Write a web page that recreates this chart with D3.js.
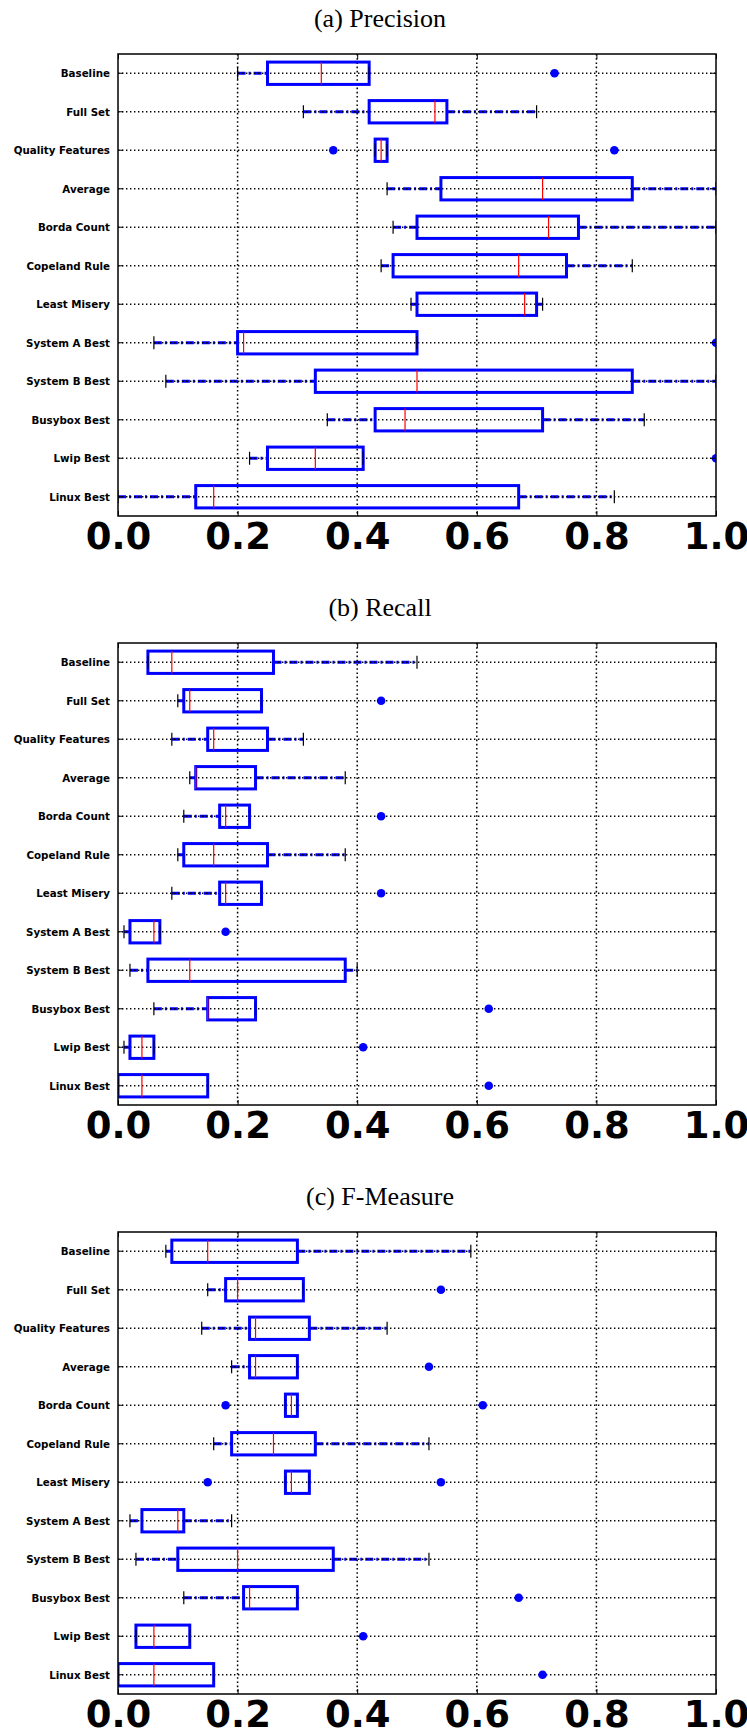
<!DOCTYPE html>
<html>
<head>
<meta charset="utf-8">
<script src="https://cdn.jsdelivr.net/npm/d3@7"></script>
<style>
  body { margin: 0; background: #fff; }
  .title { font-family: "Liberation Serif", "Times New Roman", serif; font-size: 26px; }
  .cat-label { font-family: "DejaVu Sans", sans-serif; font-weight: bold; font-size: 10.3px; }
  .x-label { font-family: "DejaVu Sans", sans-serif; font-weight: bold; font-size: 37px; }
</style>
</head>
<body>
<svg id="chart" width="747" height="1731"></svg>
<script>
const categories = ['Baseline', 'Full Set', 'Quality Features', 'Average', 'Borda Count', 'Copeland Rule',
  'Least Misery', 'System A Best', 'System B Best', 'Busybox Best', 'Lwip Best', 'Linux Best'];

const panelTitles = ['(a) Precision', '(b) Recall', '(c) F-Measure'];

const xTickValues = [0.0, 0.2, 0.4, 0.6, 0.8, 1.0];
const xTickLabels = ['0.0', '0.2', '0.4', '0.6', '0.8', '1.0'];

// [whisker low, q1, median, q3, whisker high] per category
const precisionStats = [
  [0.20, 0.25, 0.34, 0.42, 0.42],
  [0.31, 0.42, 0.53, 0.55, 0.70],
  [0.43, 0.43, 0.44, 0.45, 0.45],
  [0.45, 0.54, 0.71, 0.86, 1.00],
  [0.46, 0.50, 0.72, 0.77, 1.00],
  [0.44, 0.46, 0.67, 0.75, 0.86],
  [0.49, 0.50, 0.68, 0.70, 0.71],
  [0.06, 0.20, 0.21, 0.50, 0.50],
  [0.08, 0.33, 0.50, 0.86, 1.00],
  [0.35, 0.43, 0.48, 0.71, 0.88],
  [0.22, 0.25, 0.33, 0.41, 0.41],
  [0.00, 0.13, 0.16, 0.67, 0.83]
];
const precisionFliers = [[0.73], [], [0.36, 0.83], [], [], [], [], [1.0], [], [], [1.0], []];

const recallStats = [
  [0.05, 0.05, 0.09, 0.26, 0.50],
  [0.10, 0.11, 0.12, 0.24, 0.24],
  [0.09, 0.15, 0.16, 0.25, 0.31],
  [0.12, 0.13, 0.13, 0.23, 0.38],
  [0.11, 0.17, 0.18, 0.22, 0.22],
  [0.10, 0.11, 0.16, 0.25, 0.38],
  [0.09, 0.17, 0.18, 0.24, 0.24],
  [0.01, 0.02, 0.06, 0.07, 0.07],
  [0.02, 0.05, 0.12, 0.38, 0.40],
  [0.06, 0.15, 0.15, 0.23, 0.23],
  [0.01, 0.02, 0.04, 0.06, 0.06],
  [0.00, 0.00, 0.04, 0.15, 0.15]
];
const recallFliers = [[], [0.44], [], [], [0.44], [], [0.44], [0.18], [], [0.62], [0.41], [0.62]];

const fmeasureStats = [
  [0.08, 0.09, 0.15, 0.30, 0.59],
  [0.15, 0.18, 0.20, 0.31, 0.31],
  [0.14, 0.22, 0.23, 0.32, 0.45],
  [0.19, 0.22, 0.23, 0.30, 0.30],
  [0.28, 0.28, 0.29, 0.30, 0.30],
  [0.16, 0.19, 0.26, 0.33, 0.52],
  [0.28, 0.28, 0.29, 0.32, 0.32],
  [0.02, 0.04, 0.10, 0.11, 0.19],
  [0.03, 0.10, 0.20, 0.36, 0.52],
  [0.11, 0.21, 0.22, 0.30, 0.30],
  [0.03, 0.03, 0.06, 0.12, 0.12],
  [0.00, 0.00, 0.06, 0.16, 0.16]
];
const fmeasureFliers = [[], [0.54], [], [0.52], [0.18, 0.61], [], [0.15, 0.54], [], [], [0.67], [0.41], [0.71]];

const panels = [
  { title: panelTitles[0], stats: precisionStats, fliers: precisionFliers },
  { title: panelTitles[1], stats: recallStats, fliers: recallFliers },
  { title: panelTitles[2], stats: fmeasureStats, fliers: fmeasureFliers }
];

const plotLeft = 118, plotRight = 716;
const firstTop = 54, panelPitch = 589, plotHeight = 462;
const boxFrac = 0.58, capHalf = 6.5;

const svg = d3.select('#chart');
svg.append('rect').attr('width', 747).attr('height', 1731).attr('fill', '#fff');

const x = d3.scaleLinear().domain([0, 1]).range([plotLeft, plotRight]);

panels.forEach((p, pi) => {
  const top = firstTop + pi * panelPitch;
  const y = d3.scaleBand().domain(categories).range([top, top + plotHeight]);
  const bw = y.bandwidth();
  const cy = c => y(c) + bw / 2;
  const rows = categories.map((c, i) => ({ cat: c, s: p.stats[i], f: p.fliers[i] }));

  const clipId = 'clip' + pi;
  svg.append('clipPath').attr('id', clipId)
    .append('rect')
    .attr('x', plotLeft).attr('y', top)
    .attr('width', plotRight - plotLeft).attr('height', plotHeight);

  svg.append('text')
    .attr('class', 'title')
    .attr('x', 380).attr('y', top - 36)
    .attr('text-anchor', 'middle')
    .attr('dominant-baseline', 'central')
    .text(p.title);

  const g = svg.append('g').attr('clip-path', `url(#${clipId})`);

  // whiskers (dash-dot)
  rows.forEach(r => {
    [[r.s[0], r.s[1]], [r.s[3], r.s[4]]].forEach(([a, b]) => {
      if (b > a) {
        g.append('line')
          .attr('x1', x(a)).attr('x2', x(b))
          .attr('y1', cy(r.cat)).attr('y2', cy(r.cat))
          .attr('stroke', '#0000ff').attr('stroke-width', 3)
          .attr('stroke-dasharray', '8,3,2,3');
      }
    });
  });

  // dotted grid
  g.selectAll('.hgrid').data(categories).enter().append('line')
    .attr('x1', plotLeft).attr('x2', plotRight)
    .attr('y1', d => cy(d)).attr('y2', d => cy(d))
    .attr('stroke', '#000').attr('stroke-width', 1.3)
    .attr('stroke-dasharray', '1.4,2.6');
  g.selectAll('.vgrid').data(xTickValues.slice(1, -1)).enter().append('line')
    .attr('x1', d => x(d)).attr('x2', d => x(d))
    .attr('y1', top).attr('y2', top + plotHeight)
    .attr('stroke', '#000').attr('stroke-width', 1.5)
    .attr('stroke-dasharray', '1.6,2.6');

  // boxes
  g.selectAll('.box').data(rows).enter().append('rect')
    .attr('x', d => x(d.s[1]))
    .attr('width', d => x(d.s[3]) - x(d.s[1]))
    .attr('y', d => cy(d.cat) - bw * boxFrac / 2)
    .attr('height', bw * boxFrac)
    .attr('fill', 'none')
    .attr('stroke', '#0000ff').attr('stroke-width', 3);

  // caps
  rows.forEach(r => {
    [r.s[0], r.s[4]].forEach(v => {
      g.append('line')
        .attr('x1', x(v)).attr('x2', x(v))
        .attr('y1', cy(r.cat) - capHalf).attr('y2', cy(r.cat) + capHalf)
        .attr('stroke', '#000').attr('stroke-width', 1.2);
    });
  });

  // medians
  g.selectAll('.median').data(rows).enter().append('line')
    .attr('x1', d => x(d.s[2])).attr('x2', d => x(d.s[2]))
    .attr('y1', d => cy(d.cat) - bw * boxFrac / 2)
    .attr('y2', d => cy(d.cat) + bw * boxFrac / 2)
    .attr('stroke', '#ff0000').attr('stroke-width', 1.2);

  // fliers
  rows.forEach(r => {
    g.selectAll(null).data(r.f).enter().append('circle')
      .attr('cx', v => x(v)).attr('cy', cy(r.cat))
      .attr('r', 4.3)
      .attr('fill', '#0000ff');
  });

  // axes with inward ticks
  const axisBottom = svg.append('g')
    .attr('transform', `translate(0,${top + plotHeight})`)
    .call(d3.axisBottom(x).tickValues(xTickValues).tickSize(-5)
      .tickFormat((d, i) => xTickLabels[i]));
  axisBottom.select('.domain').remove();
  axisBottom.selectAll('text').attr('class', 'x-label').attr('fill', '#000')
    .attr('dy', null).attr('y', 33);

  const axisTop = svg.append('g')
    .attr('transform', `translate(0,${top})`)
    .call(d3.axisTop(x).tickValues(xTickValues).tickSize(-5).tickFormat(''));
  axisTop.select('.domain').remove();

  const axisLeft = svg.append('g')
    .attr('transform', `translate(${plotLeft},0)`)
    .call(d3.axisLeft(y).tickSize(-5).tickPadding(8));
  axisLeft.select('.domain').remove();
  axisLeft.selectAll('text').attr('class', 'cat-label').attr('fill', '#000')
    .attr('dy', null).attr('dominant-baseline', 'central');

  const axisRight = svg.append('g')
    .attr('transform', `translate(${plotRight},0)`)
    .call(d3.axisRight(y).tickSize(-5).tickFormat(''));
  axisRight.select('.domain').remove();

  svg.selectAll('.tick line').attr('stroke', '#000').attr('stroke-width', 1);

  // frame
  svg.append('rect')
    .attr('x', plotLeft).attr('y', top)
    .attr('width', plotRight - plotLeft).attr('height', plotHeight)
    .attr('fill', 'none').attr('stroke', '#000').attr('stroke-width', 1.5);
});
</script>
</body>
</html>
